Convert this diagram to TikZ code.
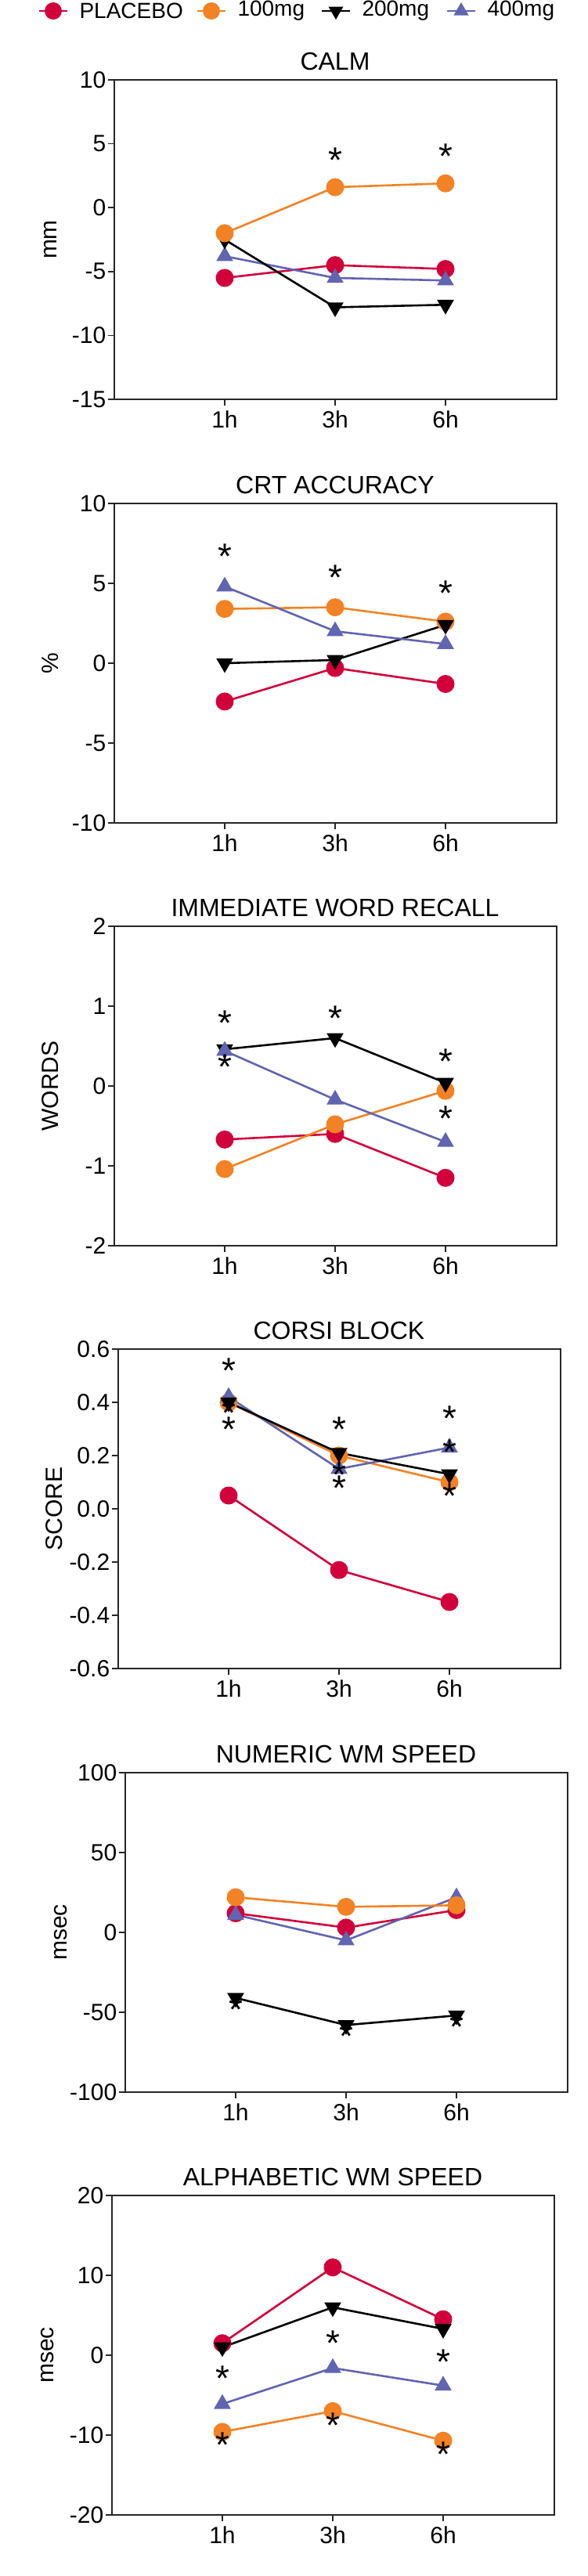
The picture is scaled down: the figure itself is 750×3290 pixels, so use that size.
\documentclass[tikz,border=0pt]{standalone}
\usepackage{fontspec}
\setmainfont{Liberation Sans}
\usetikzlibrary{shapes.geometric}
\usetikzlibrary{backgrounds}

\definecolor{cplacebo}{HTML}{D2003A}
\definecolor{cmga}{HTML}{F28224}
\definecolor{cmgc}{HTML}{6164B0}

\tikzset{
  pbo/.style={circle, fill=cplacebo, inner sep=0pt, minimum size=23pt},
  mga/.style={circle, fill=cmga, inner sep=0pt, minimum size=23pt},
  mgb/.style={regular polygon, regular polygon sides=3, shape border rotate=180, fill=black, inner sep=0pt, minimum size=25pt},
  mgc/.style={regular polygon, regular polygon sides=3, fill=cmgc, inner sep=0pt, minimum size=25pt},
  pbo line/.style={draw=cplacebo, line width=2.6pt},
  mga line/.style={draw=cmga, line width=2.6pt},
  mgb line/.style={draw=black, line width=2.6pt},
  mgc line/.style={draw=cmgc, line width=2.6pt},
  frame/.style={draw=black!85, line width=1.6pt},
  ticklab/.style={font=\fontsize{30}{30}\selectfont},
  titlelab/.style={font=\fontsize{32}{32}\selectfont},
  sigmark/.style={font=\fontsize{46}{46}\selectfont, anchor=base, inner sep=0pt, yshift=-0.6em},
}

% position inside the current panel
\newcommand\at[2]{({\px+141*#1},{\py+408/(\ymax-\ymin)*(\ymax-(#2))})}
% one series: style, prefix, three values
\newcommand\series[5]{%
  \node[#1] (#2a) at \at{1}{#3} {};
  \node[#1] (#2b) at \at{2}{#4} {};
  \node[#1] (#2c) at \at{3}{#5} {};
}
\newcommand\sig[2]{\node[sigmark] at \at{#1}{#2} {*};}
% frame, ticks, title and axis label of a panel
\newcommand\panel[4]{%
  \draw[frame] (\px,\py) rectangle ++(565,408);
  \foreach \v in {#1} {
    \draw[frame] ({\px},{\py+408/(\ymax-\ymin)*(\ymax-\v)}) -- ++(-8,0)
      node[ticklab, anchor=east, inner sep=2pt] {\v};
  }
  \foreach \t/\l in {1/1h, 2/3h, 3/6h} {
    \draw[frame] ({\px+141*\t},{\py+408}) -- ++(0,8)
      node[ticklab, anchor=north, inner sep=6pt] {\l};
  }
  \node[titlelab] at ({\px+282},{\py-24}) {#2};
  \node[ticklab, rotate=90] at ({\px-82},{\py+204}) {#3};
}
\newcommand\link[1]{\begin{pgfonlayer}{background}\draw[#1 line] (#1a.center) -- (#1b.center) -- (#1c.center);\end{pgfonlayer}}

\begin{document}
\begin{tikzpicture}[x=1pt, y=-1pt]
\useasboundingbox (0,0) rectangle (750,3290);

% legend
\foreach \mx/\st/\txt in {68/pbo/PLACEBO, 270/mga/100mg, 429/mgb/200mg, 589/mgc/400mg} {
  \node[\st, minimum size=22pt] (leg\st) at (\mx,14) {};
  \draw[\st\space line] (leg\st.center) ++(-18,0) -- ++(36,0);
  \node[ticklab, font=\fontsize{28}{28}\selectfont, anchor=west] at (\mx+30,14) {\txt};
}

% CALM
\def\px{146}\def\py{102}\def\ymin{-15}\def\ymax{10}
\panel{10,5,0,-5,-10,-15}{CALM}{mm}{}
\series{pbo}{pbo}{-5.5}{-4.5}{-4.8}
\series{mgc}{mgc}{-3.8}{-5.5}{-5.7}
\series{mgb}{mgb}{-2.5}{-7.8}{-7.6}
\series{mga}{mga}{-2.0}{1.6}{1.9}
\link{pbo}\link{mgc}\link{mgb}\link{mga}
\sig{2}{3.1}\sig{3}{3.4}

% CRT ACCURACY
\def\px{146}\def\py{643}\def\ymin{-10}\def\ymax{10}
\panel{10,5,0,-5,-10}{CRT ACCURACY}{\%}{}
\series{pbo}{pbo}{-2.4}{-0.3}{-1.3}
\series{mga}{mga}{3.4}{3.5}{2.6}
\series{mgb}{mgb}{0.0}{0.2}{2.4}
\series{mgc}{mgc}{4.8}{2.0}{1.2}
\link{pbo}\link{mga}\link{mgb}\link{mgc}
\sig{1}{6.2}\sig{2}{4.9}\sig{3}{3.9}

% IMMEDIATE WORD RECALL
\def\px{146}\def\py{1183}\def\ymin{-2}\def\ymax{2}
\panel{2,1,0,-1,-2}{IMMEDIATE WORD RECALL}{WORDS}{}
\series{pbo}{pbo}{-0.67}{-0.6}{-1.15}
\series{mga}{mga}{-1.04}{-0.48}{-0.06}
\series{mgb}{mgb}{0.46}{0.6}{0.04}
\series{mgc}{mgc}{0.44}{-0.17}{-0.7}
\link{pbo}\link{mga}\link{mgb}\link{mgc}
\sig{1}{0.69}\sig{1}{0.14}\sig{2}{0.75}\sig{3}{0.21}\sig{3}{-0.5}

% CORSI BLOCK
\def\px{151}\def\py{1723}\def\ymin{-0.6}\def\ymax{0.6}
\panel{0.6,0.4,0.2,0.0,-0.2,-0.4,-0.6}{CORSI BLOCK}{SCORE}{}
\series{pbo}{pbo}{0.05}{-0.23}{-0.35}
\series{mga}{mga}{0.40}{0.20}{0.10}
\series{mgc}{mgc}{0.42}{0.15}{0.23}
\series{mgb}{mgb}{0.40}{0.21}{0.13}
\link{pbo}\link{mga}\link{mgc}\link{mgb}
\sig{1}{0.49}\sig{1}{0.33}\sig{1}{0.27}
\sig{2}{0.27}\sig{2}{0.10}\sig{2}{0.05}
\sig{3}{0.31}\sig{3}{0.185}\sig{3}{0.02}

% NUMERIC WM SPEED
\def\px{160}\def\py{2264}\def\ymin{-100}\def\ymax{100}
\panel{100,50,0,-50,-100}{NUMERIC WM SPEED}{msec}{}
\series{pbo}{pbo}{12}{3}{14}
\series{mgc}{mgc}{11}{-5}{22}
\series{mga}{mga}{22}{16}{17}
\series{mgb}{mgb}{-41}{-58}{-52}
\link{pbo}\link{mgc}\link{mga}\link{mgb}
\sig{1}{-53}\sig{2}{-70}\sig{3}{-64}

% ALPHABETIC WM SPEED
\def\px{143}\def\py{2804}\def\ymin{-20}\def\ymax{20}
\panel{20,10,0,-10,-20}{ALPHABETIC WM SPEED}{msec}{}
\series{pbo}{pbo}{1.5}{11}{4.5}
\series{mgb}{mgb}{1.0}{6.0}{3.3}
\series{mgc}{mgc}{-6.1}{-1.6}{-3.8}
\series{mga}{mga}{-9.6}{-7.0}{-10.7}
\link{pbo}\link{mgb}\link{mgc}\link{mga}
\sig{1}{-3.9}\sig{1}{-12.2}\sig{2}{0.5}\sig{2}{-9.8}\sig{3}{-1.8}\sig{3}{-13.4}
\end{tikzpicture}
\end{document}
